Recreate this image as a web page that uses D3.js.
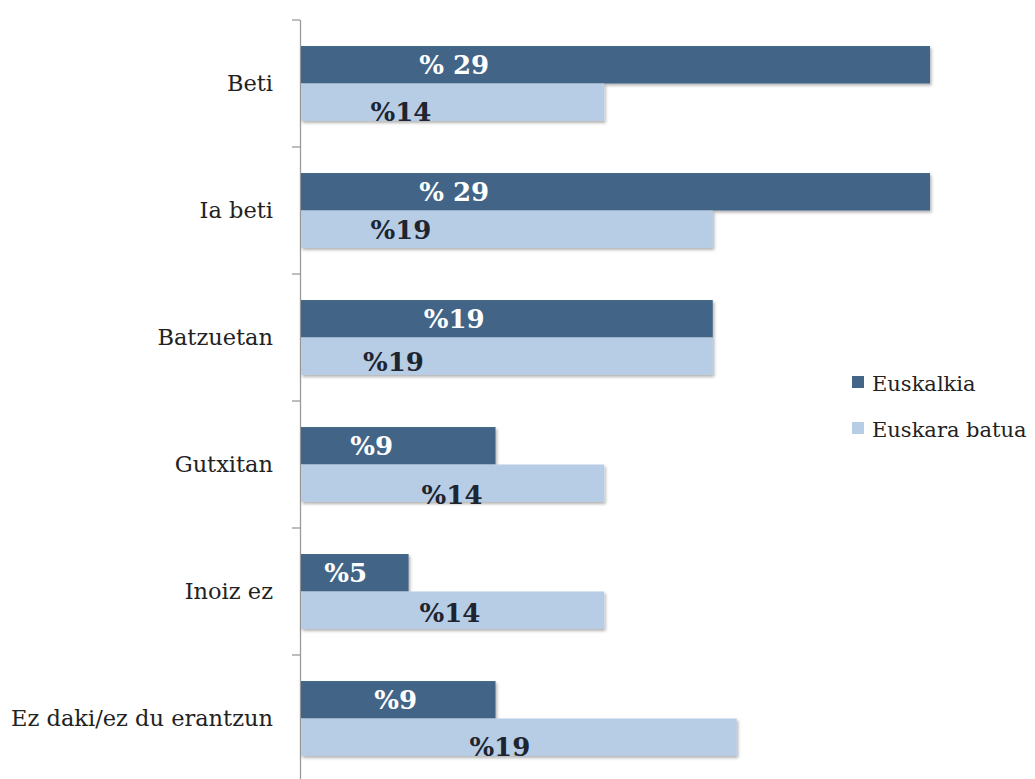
<!DOCTYPE html>
<html>
<head>
<meta charset="utf-8">
<script src="https://cdn.jsdelivr.net/npm/d3@7"></script>
<style>
  body { margin: 0; background: #fff; }
  svg { display: block; }
  .cat { font-family: "DejaVu Serif", serif; font-size: 22.5px; fill: #222; }
  .val { font-family: "DejaVu Serif", serif; font-size: 26px; font-weight: bold; }
  .leg { font-family: "DejaVu Serif", serif; font-size: 21px; fill: #222; }
</style>
</head>
<body>
<div id="chart"></div>
<script>
// categories, top to bottom
const categories = ["Beti", "Ia beti", "Batzuetan", "Gutxitan", "Inoiz ez", "Ez daki/ez du erantzun"];
const seriesNames = ["Euskalkia", "Euskara batua"];

// bar lengths (%)
const euskalkia = [29, 29, 19, 9, 5, 9];
const batua = [14, 19, 19, 14, 14, 20.1];

// printed labels (the original prints them this way)
const euskalkiaLabels = ["% 29", "% 29", "%19", "%9", "%5", "%9"];
const batuaLabels = ["%14", "%19", "%19", "%14", "%14", "%19"];

// where the labels were dragged to, in % units along the bar
const euskalkiaLabelAt = [7.1, 7.1, 7.1, 3.3, 2.1, 4.4];
const batuaLabelAt = [4.65, 4.65, 4.3, 7.0, 6.9, 9.2];
// vertical nudge of labels, px
const euskalkiaLabelDy = [0, 0, 0, 0, 0, 0];
const batuaLabelDy = [9, 0, 5, 11, 2, 9];

const colors = ["#436587", "#b7cde5"];

const W = 1035, H = 779;
const svg = d3.select("#chart").append("svg").attr("width", W).attr("height", H);

let defs = svg.append("defs");
defs.append("filter").attr("id", "shadow").attr("x", "-5%").attr("y", "-20%").attr("width", "110%").attr("height", "160%")
  .append("feDropShadow").attr("dx", 1.5).attr("dy", 2).attr("stdDeviation", 1.5)
  .attr("flood-color", "#000").attr("flood-opacity", 0.3);

const x = d3.scaleLinear().domain([0, 29]).range([300, 930]);
const y = d3.scaleBand().domain(categories).range([20, 782]).paddingInner(0.41).paddingOuter(0.205);
const sub = d3.scaleBand().domain(seriesNames).range([0, y.bandwidth()]);

const rows = categories.map((c, i) => ({
  cat: c,
  bars: [
    {s: 0, v: euskalkia[i], label: euskalkiaLabels[i], at: euskalkiaLabelAt[i], dy: euskalkiaLabelDy[i]},
    {s: 1, v: batua[i], label: batuaLabels[i], at: batuaLabelAt[i], dy: batuaLabelDy[i]}
  ]
}));

// axis line + boundary ticks
const step = y.step();
svg.append("line").attr("x1", 300.5).attr("x2", 300.5).attr("y1", 20).attr("y2", H)
  .attr("stroke", "#9a9a9a").attr("stroke-width", 1.3);
d3.range(categories.length + 1).forEach(i => {
  let ty = 20 + i * step;
  svg.append("line").attr("x1", 292).attr("x2", 300).attr("y1", ty).attr("y2", ty)
    .attr("stroke", "#9a9a9a").attr("stroke-width", 1.3);
});

// category labels
const yAxis = d3.axisLeft(y).tickSize(0).tickPadding(27);
const ga = svg.append("g").attr("transform", "translate(300,0)").call(yAxis);
ga.select(".domain").remove();
ga.selectAll("text").attr("class", "cat").attr("fill", null).attr("font-size", null).attr("font-family", null);

// bars
const g = svg.selectAll("g.row").data(rows).enter().append("g")
  .attr("class", "row").attr("transform", d => `translate(0,${y(d.cat)})`);

g.selectAll("rect").data(d => d.bars).enter().append("rect")
  .attr("x", x(0) + 1)
  .attr("y", d => sub(seriesNames[d.s]))
  .attr("width", d => x(d.v) - x(0) - 1)
  .attr("height", sub.bandwidth())
  .attr("fill", d => colors[d.s])
  .attr("filter", "url(#shadow)");

g.selectAll("text.val").data(d => d.bars).enter().append("text")
  .attr("class", "val")
  .attr("x", d => x(d.at))
  .attr("y", d => sub(seriesNames[d.s]) + sub.bandwidth() / 2 + d.dy)
  .attr("dy", "0.36em")
  .attr("text-anchor", "middle")
  .attr("fill", d => d.s === 0 ? "#fff" : "#1e2530")
  .text(d => d.label);

// legend
const leg = svg.append("g").attr("transform", "translate(852,376)");
seriesNames.forEach((n, i) => {
  leg.append("rect").attr("x", 0).attr("y", i * 46).attr("width", 12).attr("height", 12).attr("fill", colors[i]);
  leg.append("text").attr("class", "leg").attr("x", 20).attr("y", i * 46 + 7).attr("dy", "0.36em").text(n);
});
</script>
</body>
</html>
